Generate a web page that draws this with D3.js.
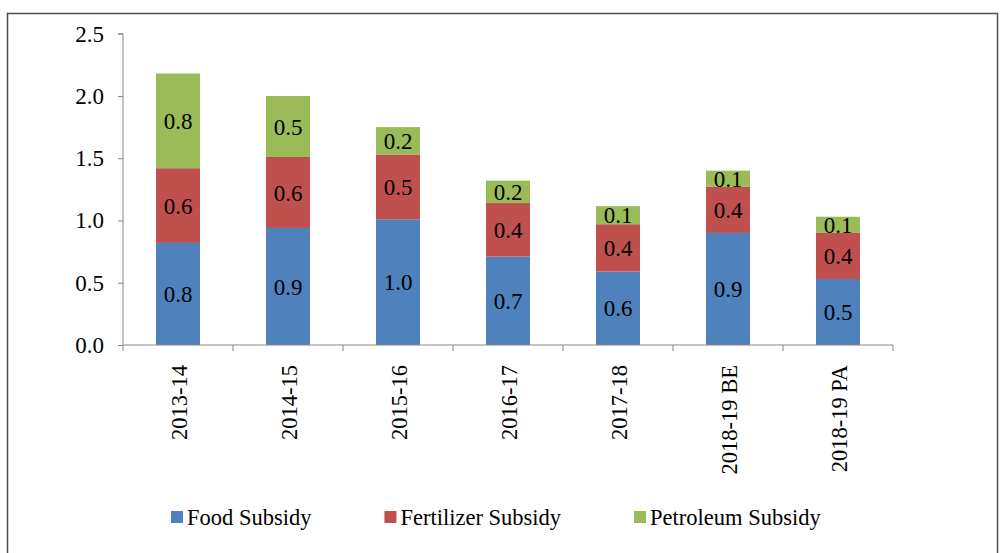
<!DOCTYPE html>
<html>
<head>
<meta charset="utf-8">
<script src="https://cdn.jsdelivr.net/npm/d3@7"></script>
<style>
  body { margin: 0; background: #fff; }
  text { font-family: "Liberation Serif", "Times New Roman", serif; fill: #000; }
</style>
</head>
<body>
<svg id="chart" width="1008" height="553"></svg>
<script>
var years = ['2013-14', '2014-15', '2015-16', '2016-17', '2017-18', '2018-19 BE', '2018-19 PA'];
var food = [0.82, 0.94, 1.01, 0.71, 0.59, 0.90, 0.53];
var fertilizer = [0.60, 0.57, 0.52, 0.43, 0.38, 0.37, 0.37];
var petroleum = [0.76, 0.49, 0.22, 0.18, 0.145, 0.13, 0.13];
var seriesNames = ['Food Subsidy', 'Fertilizer Subsidy', 'Petroleum Subsidy'];
var colors = ['#4f81bd', '#c0504d', '#9bbb59'];
var yTicks = [0, 0.5, 1.0, 1.5, 2.0, 2.5];

var svg = d3.select('#chart');

// outer frame
svg.append('rect')
  .attr('x', 7.5).attr('y', 13.5)
  .attr('width', 990).attr('height', 560)
  .attr('fill', 'none')
  .attr('stroke', '#4d4d4d')
  .attr('stroke-width', 1.5);

var x = d3.scaleBand()
  .domain(years)
  .range([123, 893])
  .paddingInner(0.6)
  .paddingOuter(0.3);

var y = d3.scaleLinear()
  .domain([0, 2.5])
  .range([345, 33.7]);

// stack the data
var rows = years.map(function(d, i) {
  return { year: d, food: food[i], fertilizer: fertilizer[i], petroleum: petroleum[i] };
});
var stack = d3.stack().keys(['food', 'fertilizer', 'petroleum']);
var layers = stack(rows);

var g = svg.append('g');
layers.forEach(function(layer, li) {
  var lg = g.append('g').attr('fill', colors[li]);
  lg.selectAll('rect')
    .data(layer)
    .enter().append('rect')
      .attr('x', function(d) { return x(d.data.year); })
      .attr('y', function(d) { return y(d[1]); })
      .attr('width', x.bandwidth())
      .attr('height', function(d) { return y(d[0]) - y(d[1]); });

  lg.selectAll('text')
    .data(layer)
    .enter().append('text')
      .attr('x', function(d) { return x(d.data.year) + x.bandwidth() / 2; })
      .attr('y', function(d) { return (y(d[0]) + y(d[1])) / 2; })
      .attr('text-anchor', 'middle')
      .attr('dy', '0.35em')
      .style('font-size', '23px')
      .text(function(d) { return d3.format('.1f')(d[1] - d[0]); });
});

// y axis
var yAxis = d3.axisLeft(y)
  .tickValues(yTicks)
  .tickFormat(d3.format('.1f'))
  .tickSize(5)
  .tickPadding(14);
var ya = svg.append('g')
  .attr('transform', 'translate(123,0)')
  .call(yAxis);
ya.select('.domain').attr('stroke', '#868686').attr('d', 'M-5,' + y(2.5) + 'H0V' + y(0));
ya.selectAll('line').attr('stroke', '#868686');
ya.selectAll('text').style('font-size', '23px').style('font-family', '"Liberation Serif", serif').attr('fill', '#000');

// x axis line and boundary ticks
var xr = x.range();
svg.append('line')
  .attr('x1', xr[0]).attr('x2', xr[1])
  .attr('y1', y(0)).attr('y2', y(0))
  .attr('stroke', '#868686');
svg.selectAll('.xtick')
  .data(d3.range(years.length + 1))
  .enter().append('line')
    .attr('class', 'xtick')
    .attr('x1', function(i) { return xr[0] + i * x.step(); })
    .attr('x2', function(i) { return xr[0] + i * x.step(); })
    .attr('y1', y(0)).attr('y2', y(0) + 6)
    .attr('stroke', '#868686');

svg.selectAll('.xlabel')
  .data(years)
  .enter().append('text')
    .attr('class', 'xlabel')
    .attr('transform', function(d) {
      return 'translate(' + (x(d) + x.bandwidth() / 2 + 1) + ',365) rotate(-90)';
    })
    .attr('text-anchor', 'end')
    .attr('dy', '0.35em')
    .style('font-size', '22.5px')
    .text(function(d) { return d; });

// legend
var legend = svg.append('g');
var lx = 171;
seriesNames.forEach(function(name, i) {
  legend.append('rect')
    .attr('x', lx).attr('y', 511)
    .attr('width', 12).attr('height', 12)
    .attr('fill', colors[i]);
  var t = legend.append('text')
    .attr('x', lx + 16).attr('y', 525)
    .style('font-size', '22.5px')
    .text(name);
  lx += 16 + t.node().getComputedTextLength() + 73;
});
</script>
</body>
</html>
